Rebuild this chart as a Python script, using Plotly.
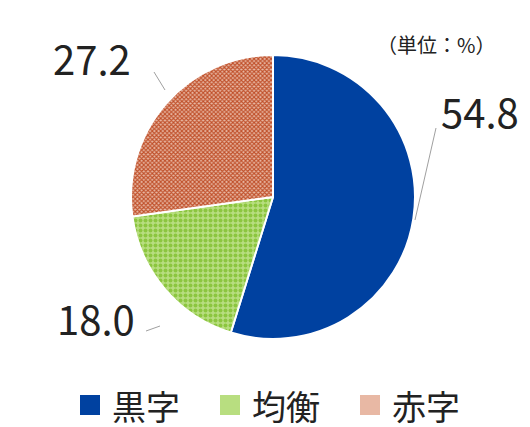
import plotly.graph_objects as go

labels = ["黒字", "均衡", "赤字"]
values = [54.8, 18.0, 27.2]
colors = ["#0041a0", "#8cc63f", "#c0502a"]
bgs = ["#0041a0", "#b8de80", "#e8b8a4"]

fig = go.Figure(go.Pie(
    labels=labels, values=values, sort=False, direction="clockwise", rotation=0,
    textinfo="none", hoverinfo="label+value", showlegend=False,
    marker=dict(colors=["#0041a0", "#ffffff", "#ffffff"],
                line=dict(color="white", width=2),
                pattern=dict(shape=["", ".", "x"],
                             fgcolor=colors, bgcolor=bgs,
                             size=[8, 5, 3], solidity=[0.3, 0.5, 0.6])),
    domain=dict(x=[0, 1], y=[0.225, 0.89]),
))

font = dict(family="Noto Sans CJK JP, Noto Sans", size=40, color="#222")
pos = [(472, 103), (88, 310), (84, 50)]
for v, (x, y) in zip(values, pos):
    fig.add_annotation(x=x/530, y=1-y/427, xref="paper", yref="paper",
                       xanchor="center", yanchor="middle",
                       text=f"{v:.1f}", showarrow=False, font=font)
lines = [((428, 120), (407, 212)), ((138, 323), (152, 318)), ((146, 64), (157, 82))]
for (x0, y0), (x1, y1) in lines:
    fig.add_shape(type="line", xref="paper", yref="paper",
                  x0=x0/530, y0=1-y0/427, x1=x1/530, y1=1-y1/427,
                  line=dict(color="#a0a0a0", width=1))
fig.add_annotation(x=428/530, y=1-37/427, xref="paper", yref="paper",
                   xanchor="center", yanchor="middle",
                   text="（単位：%）", showarrow=False,
                   font=dict(family="Noto Sans CJK JP", size=20, color="#222"))

# legend drawn manually
lx = [72, 212, 352]
for lab, c, bg, x in zip(labels, colors, bgs, lx):
    fig.add_shape(type="rect", xref="paper", yref="paper",
                  x0=x/530, x1=(x+20)/530, y0=1-407/427, y1=1-387/427,
                  line=dict(width=0), fillcolor=c if c == colors[0] else bg)
    fig.add_annotation(x=(x+30)/530, y=1-397/427, xref="paper", yref="paper",
                       xanchor="left", yanchor="middle", text=lab, showarrow=False,
                       font=dict(family="Noto Sans CJK JP", size=34, color="#222"))

fig.update_layout(
    width=530, height=427, margin=dict(l=0, r=0, t=0, b=0),
    paper_bgcolor="white", plot_bgcolor="white",
)
fig.write_html("out.html")
